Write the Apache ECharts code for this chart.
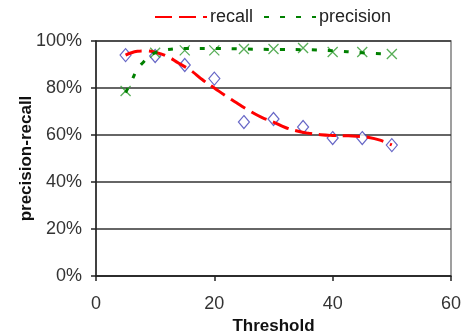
<!DOCTYPE html>
<html>
<head>
<meta charset="utf-8">
<script src="https://cdn.jsdelivr.net/npm/echarts@6/dist/echarts.min.js"></script>
<style>
  html, body { margin: 0; padding: 0; background: #fff; }
  #chart { width: 466px; height: 335px; }
</style>
</head>
<body>
<div id="chart"></div>
<script>
// measured points
var thresholds = [5, 10, 15, 20, 25, 30, 35, 40, 45, 50];
var recallPts = [0.94, 0.936, 0.898, 0.84, 0.655, 0.668, 0.634, 0.587, 0.587, 0.557];
var precisionPts = [0.787, 0.95, 0.96, 0.96, 0.966, 0.966, 0.97, 0.953, 0.953, 0.945];

// trend lines
var recallTrendX = [5, 6, 7, 8, 10, 12, 14, 16, 18, 20, 22, 24, 26, 28, 30, 32, 34, 36, 38, 40, 42, 44, 46, 48, 50];
var recallTrendY = [0.94, 0.95, 0.956, 0.958, 0.952, 0.935, 0.905, 0.875, 0.835, 0.80, 0.765, 0.733, 0.702, 0.675, 0.655, 0.632, 0.617, 0.607, 0.601, 0.598, 0.597, 0.595, 0.59, 0.578, 0.558];
var precisionTrendX = [5, 6, 7, 8, 9, 10, 12, 15, 20, 25, 30, 35, 40, 45, 50];
var precisionTrendY = [0.78, 0.83, 0.88, 0.91, 0.935, 0.95, 0.963, 0.968, 0.968, 0.966, 0.964, 0.963, 0.958, 0.95, 0.943];

function pairs(xs, ys) {
  return xs.map(function (x, i) { return [x, ys[i]]; });
}

var chart = echarts.init(document.getElementById('chart'));

var labelFont = 'Liberation Sans, Arial, sans-serif';

var option = {
  animation: false,
  legend: {
    data: ['recall', 'precision'],
    left: 149,
    top: 3,
    itemWidth: 52,
    itemHeight: 14,
    itemGap: 10,
    itemStyle: { opacity: 0 },
    textStyle: { fontSize: 18, color: '#222', fontFamily: labelFont, padding: [0, 0, 0, -2] }
  },
  grid: {
    left: 96,
    right: 15,
    top: 41,
    bottom: 59,
    containLabel: false,
    outerBoundsMode: 'none',
    show: true,
    borderColor: '#808080',
    borderWidth: 1.5
  },
  xAxis: {
    type: 'value',
    min: 0,
    max: 60,
    interval: 20,
    name: 'Threshold',
    nameLocation: 'middle',
    nameGap: 42,
    nameMoveOverlap: false,
    nameTextStyle: { fontSize: 17, fontWeight: 'bold', color: '#111', fontFamily: labelFont },
    axisLine: { show: true, lineStyle: { color: '#222', width: 1.5 } },
    axisTick: { show: true, length: 5, lineStyle: { color: '#222', width: 1.5 } },
    axisLabel: { fontSize: 18, color: '#333', margin: 19, fontFamily: labelFont },
    splitLine: { show: false }
  },
  yAxis: {
    type: 'value',
    min: 0,
    max: 1,
    interval: 0.2,
    name: 'precision-recall',
    nameLocation: 'middle',
    nameGap: 61,
    nameMoveOverlap: false,
    nameTextStyle: { fontSize: 17, fontWeight: 'bold', color: '#111', fontFamily: labelFont },
    axisLine: { show: true, lineStyle: { color: '#222', width: 1.5 } },
    axisTick: { show: true, length: 5, lineStyle: { color: '#222', width: 1.5 } },
    axisLabel: {
      fontSize: 18, color: '#333', margin: 14, fontFamily: labelFont,
      formatter: function (v) { return Math.round(v * 100) + '%'; }
    },
    splitLine: { show: true, lineStyle: { color: '#333', width: 1.5 } }
  },
  series: [
    {
      name: 'recall pts',
      type: 'scatter',
      data: pairs(thresholds, recallPts),
      symbol: 'diamond',
      symbolSize: [11, 13],
      itemStyle: { color: '#fff', borderColor: '#4040b8', borderWidth: 1.2 },
      z: 2
    },
    {
      name: 'precision pts',
      type: 'scatter',
      data: pairs(thresholds, precisionPts),
      symbol: 'path://M0,0L10,10M10,0L0,10',
      symbolSize: 10,
      itemStyle: { color: 'none', borderColor: '#2e9a2e', borderWidth: 1.3 },
      z: 2
    },
    {
      name: 'recall',
      type: 'line',
      data: pairs(recallTrendX, recallTrendY),
      smooth: true,
      symbol: 'none',
      lineStyle: { color: '#ff0000', width: 3, type: [17, 7] },
      itemStyle: { color: '#ff0000' },
      z: 3
    },
    {
      name: 'precision',
      type: 'line',
      data: pairs(precisionTrendX, precisionTrendY),
      smooth: true,
      symbol: 'none',
      lineStyle: { color: '#008000', width: 3, type: [5, 11] },
      itemStyle: { color: '#008000' },
      z: 3
    }
  ]
};

chart.setOption(option);
</script>
</body>
</html>
